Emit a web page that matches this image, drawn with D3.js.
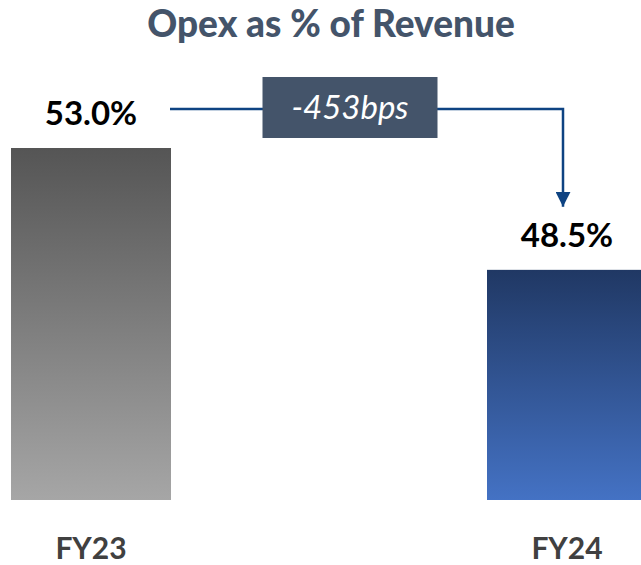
<!DOCTYPE html>
<html>
<head>
<meta charset="utf-8">
<script src="https://cdn.jsdelivr.net/npm/d3@7"></script>
<style>
  html, body { margin: 0; padding: 0; background: #fff; }
  svg { display: block; }
</style>
</head>
<body>
<div id="chart"></div>
<script>
// data
var years = ["FY23", "FY24"]
var opexPct = [53.0, 48.5]
var valueLabels = ["53.0%", "48.5%"]
var changeLabel = "-453bps"
var chartTitle = "Opex as % of Revenue"

var width = 641, height = 565

var svg = d3.select("#chart").append("svg")
  .attr("width", width)
  .attr("height", height)

var defs = svg.append("defs")

// bar gradients (top dark -> bottom light)
var gradColors = [["#555555", "#a6a6a6"], ["#203864", "#4472c4"]]
gradColors.forEach(function(c, i) {
  var g = defs.append("linearGradient")
    .attr("id", "grad" + i)
    .attr("x1", 0).attr("y1", 0).attr("x2", 0).attr("y2", 1)
  g.append("stop").attr("offset", "0%").attr("stop-color", c[0])
  g.append("stop").attr("offset", "100%").attr("stop-color", c[1])
})

defs.append("marker")
  .attr("id", "arrow")
  .attr("viewBox", "0 0 10 10")
  .attr("refX", 10).attr("refY", 5)
  .attr("markerWidth", 6).attr("markerHeight", 6)
  .attr("markerUnits", "strokeWidth")
  .attr("orient", "auto")
  .append("path")
  .attr("d", "M0,0 L10,5 L0,10 Z")
  .attr("fill", "#0e4382")

// scales
var x = d3.scalePoint().domain(years).range([91, 567])
var barWidth = 160
var y = d3.scaleLinear().domain([40, 53]).range([500, 148])

// title
svg.append("text")
  .attr("x", 331).attr("y", 37)
  .attr("text-anchor", "middle")
  .attr("font-family", "Lato, 'Open Sans', sans-serif")
  .attr("font-weight", "900")
  .attr("font-size", 37)
  .attr("fill", "#44546a")
  .text(chartTitle)

// bars
svg.selectAll("rect.bar")
  .data(years)
  .enter().append("rect")
  .attr("class", "bar")
  .attr("x", function(d) { return x(d) - barWidth / 2 })
  .attr("y", function(d, i) { return y(opexPct[i]) })
  .attr("width", barWidth)
  .attr("height", function(d, i) { return y(40) - y(opexPct[i]) })
  .attr("fill", function(d, i) { return "url(#grad" + i + ")" })

// value labels
svg.selectAll("text.val")
  .data(years)
  .enter().append("text")
  .attr("class", "val")
  .attr("x", function(d) { return x(d) })
  .attr("y", function(d, i) { return y(opexPct[i]) - 23 })
  .attr("text-anchor", "middle")
  .attr("font-family", "Lato, 'Open Sans', sans-serif")
  .attr("font-weight", "bold")
  .attr("font-size", 33)
  .attr("fill", "#000")
  .text(function(d, i) { return valueLabels[i] })

// category labels
svg.selectAll("text.cat")
  .data(years)
  .enter().append("text")
  .attr("class", "cat")
  .attr("x", function(d) { return x(d) })
  .attr("y", 559)
  .attr("text-anchor", "middle")
  .attr("font-family", "Lato, 'Open Sans', sans-serif")
  .attr("font-weight", "bold")
  .attr("font-size", 30)
  .attr("fill", "#404040")
  .text(function(d) { return d })

// change arrow
var lineY = y(opexPct[0]) - 39
var x0 = x(years[0]) + barWidth / 2 - 1
var x1 = x(years[1]) - 4
var tipY = y(opexPct[1]) - 63

svg.append("path")
  .attr("d", "M" + x0 + "," + lineY + " H" + x1 + " V" + tipY)
  .attr("fill", "none")
  .attr("stroke", "#0e4382")
  .attr("stroke-width", 2.5)
  .attr("marker-end", "url(#arrow)")

// change box
var boxCx = 350, boxW = 175, boxH = 61
svg.append("rect")
  .attr("x", boxCx - boxW / 2)
  .attr("y", lineY - 32)
  .attr("width", boxW)
  .attr("height", boxH)
  .attr("fill", "#44546a")

svg.append("text")
  .attr("x", boxCx).attr("y", lineY + 10)
  .attr("text-anchor", "middle")
  .attr("font-family", "Lato, 'Open Sans', sans-serif")
  .attr("font-style", "italic")
  .attr("font-size", 33)
  .attr("fill", "#fff")
  .text(changeLabel)
</script>
</body>
</html>
